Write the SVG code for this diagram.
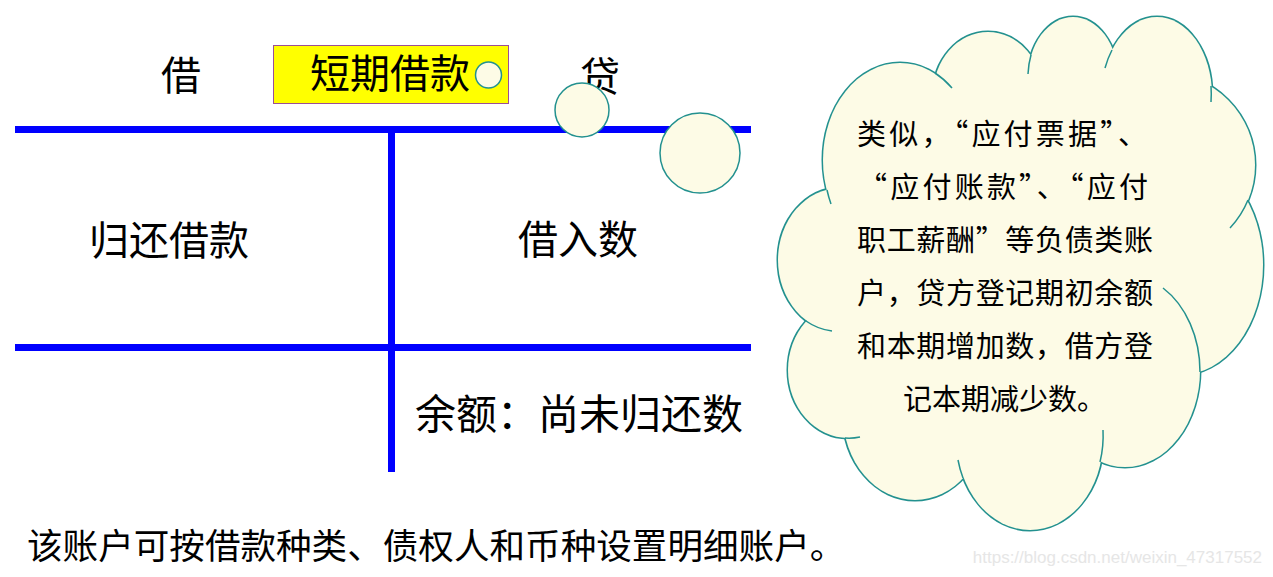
<svg xmlns="http://www.w3.org/2000/svg" width="1273" height="577" viewBox="0 0 1273 577">
<style>
.t{font-family:"Noto Sans CJK SC","Noto Sans",sans-serif;fill:#000}
.bl{stroke:#0000FF;stroke-width:7;fill:none}
.cs{fill:#FDFBE6;stroke:#23918F;stroke-width:3}
.cf{fill:#FDFBE6;stroke:none}
.ct{fill:none;stroke:#23918F;stroke-width:1.5}
.bub{fill:#FDFBE6;stroke:#23918F;stroke-width:1.5}
</style>
<rect width="1273" height="577" fill="#FFFFFF"/>
<g id="header">
<text class="t" x="161" y="90" font-size="40">借</text>
<rect x="273.5" y="45.5" width="235" height="58" fill="#FFFF00" stroke="#9B4F96" stroke-width="1"/>
<text class="t" x="310" y="88" font-size="40">短期借款</text>
<text class="t" x="580" y="91" font-size="40">贷</text>
</g>
<g id="connectors">
<line class="bl" x1="15" y1="129.5" x2="751" y2="129.5"/>
<line class="bl" x1="391.5" y1="129.5" x2="391.5" y2="472"/>
<line class="bl" x1="15" y1="347.5" x2="751" y2="347.5"/>
</g>
<g id="debit">
<text class="t" x="89" y="255" font-size="40">归还借款</text>
</g>
<g id="credit">
<text class="t" x="518" y="254" font-size="40">借入数</text>
</g>
<g id="balance">
<text class="t" x="415" y="429" font-size="41">余额：尚未归还数</text>
</g>
<g id="note">
<text class="t" x="27" y="559" font-size="35.6">该账户可按借款种类、债权人和币种设置明细账户。</text>
</g>
<g id="bubbles">
<circle class="bub" cx="488.5" cy="75" r="13"/>
<circle class="bub" cx="582" cy="110" r="27"/>
<circle class="bub" cx="700" cy="153" r="40"/>
</g>
<g id="cloud">
<g class="cs">
<ellipse cx="900" cy="160" rx="77" ry="97"/>
<ellipse cx="988" cy="95" rx="55" ry="63"/>
<ellipse cx="1073" cy="78" rx="45" ry="61"/>
<ellipse cx="1157" cy="95" rx="55" ry="78"/>
<ellipse cx="1163" cy="165" rx="92" ry="92"/>
<ellipse cx="1180" cy="265" rx="83" ry="110"/>
<ellipse cx="1125" cy="370" rx="75" ry="97"/>
<ellipse cx="1030" cy="440" rx="73" ry="90"/>
<ellipse cx="915" cy="415" rx="72" ry="85"/>
<ellipse cx="848" cy="370" rx="60" ry="68"/>
<ellipse cx="840" cy="260" rx="62" ry="72"/>
</g>
<polygon class="cf" points="900,160 988,95 1073,78 1157,95 1163,165 1180,265 1125,370 1030,440 915,415 848,370 840,260"/>
<g class="cf">
<ellipse cx="900" cy="160" rx="77" ry="97"/>
<ellipse cx="988" cy="95" rx="55" ry="63"/>
<ellipse cx="1073" cy="78" rx="45" ry="61"/>
<ellipse cx="1157" cy="95" rx="55" ry="78"/>
<ellipse cx="1163" cy="165" rx="92" ry="92"/>
<ellipse cx="1180" cy="265" rx="83" ry="110"/>
<ellipse cx="1125" cy="370" rx="75" ry="97"/>
<ellipse cx="1030" cy="440" rx="73" ry="90"/>
<ellipse cx="915" cy="415" rx="72" ry="85"/>
<ellipse cx="848" cy="370" rx="60" ry="68"/>
<ellipse cx="840" cy="260" rx="62" ry="72"/>
</g>
<g class="ct">
<path d="M827,190 A77 97 0 0 0 831,204"/>
<path d="M935,73 A77 97 0 0 1 952,88"/>
<path d="M1031,55 A45 61 0 0 0 1028,74"/>
<path d="M1112,50 A55 78 0 0 0 1105,68"/>
<path d="M1211,86 A55 78 0 0 1 1211,102"/>
<path d="M1248,200 A92 92 0 0 1 1230,228"/>
<path d="M1163,288 A75 97 0 0 1 1200,372"/>
<path d="M1103,430 A73 90 0 0 1 1100,462"/>
<path d="M963,478 A73 90 0 0 1 958,460"/>
<path d="M845,438 A60 68 0 0 0 860,437"/>
<path d="M806,321 A62 72 0 0 0 832,331"/>
</g>
<g class="t" font-size="29">
<text x="857" y="145" textLength="290" lengthAdjust="spacing">类似，“应付票据”、</text>
<text x="858" y="198" textLength="290" lengthAdjust="spacing">“应付账款”、“应付</text>
<text x="857" y="251" textLength="296" lengthAdjust="spacing">职工薪酬”等负债类账</text>
<text x="857" y="304" textLength="296" lengthAdjust="spacing">户，贷方登记期初余额</text>
<text x="857" y="357" textLength="296" lengthAdjust="spacing">和本期增加数，借方登</text>
<text x="903" y="410">记本期减少数。</text>
</g>
</g>
<text x="1262" y="563" text-anchor="end" font-family="Liberation Sans, sans-serif" font-size="17" fill="#E6E6E6">https://blog.csdn.net/weixin_47317552</text>
</svg>
